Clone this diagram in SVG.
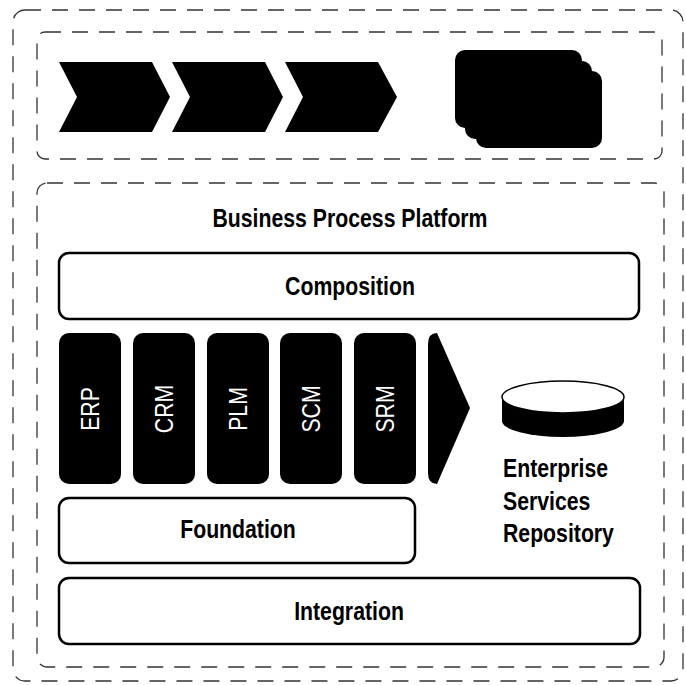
<svg xmlns="http://www.w3.org/2000/svg" width="686" height="685" viewBox="0 0 686 685">
<style>
.frame{fill:none;stroke:#333;stroke-width:1.3;stroke-dasharray:16 11}
.box{fill:#fff;stroke:#000;stroke-width:2.5}
.blk{fill:#000}
.lbl{font-family:"Liberation Sans",Arial,Helvetica,sans-serif;font-size:25px;font-weight:bold;fill:#000}
.col{font-family:"Liberation Sans",Arial,Helvetica,sans-serif;font-size:25px;fill:#fff;text-anchor:middle}
.mid{text-anchor:middle}
</style>
<rect width="686" height="685" fill="#fff"/>
<g id="outer-frame"><rect class="frame" x="13" y="10" width="670" height="671" rx="12"/></g>
<g id="process-frame"><rect class="frame" x="37" y="32" width="625" height="127" rx="8"/></g>
<g id="process-chain">
<polygon class="blk" points="59,62 152,62 170,97 152,132 59,132 77,97"/>
<polygon class="blk" points="172,62 265,62 283,97 265,132 172,132 190,97"/>
<polygon class="blk" points="285,62 378,62 397,97 378,132 285,132 303,97"/>
</g>
<g id="document-stack">
<rect class="blk" x="455" y="50" width="127" height="78" rx="10"/>
<rect class="blk" x="465" y="61" width="127" height="78" rx="10"/>
<rect class="blk" x="476" y="71" width="126" height="77" rx="10"/>
</g>
<g id="business-process-platform">
<rect class="frame" x="37" y="183" width="627" height="484" rx="10"/>
<text class="lbl mid" transform="translate(350,227) scale(0.85,1)">Business Process Platform</text>
</g>
<g id="composition">
<rect class="box" x="59" y="253" width="580" height="66" rx="10"/>
<text class="lbl mid" transform="translate(350,295) scale(0.85,1)">Composition</text>
</g>
<g id="erp"><rect class="blk" x="59" y="333" width="62" height="151" rx="10"/><text class="col" transform="translate(90,409) rotate(-90) scale(0.85,1)" dy="9">ERP</text></g>
<g id="crm"><rect class="blk" x="133" y="333" width="62" height="151" rx="10"/><text class="col" transform="translate(164,409) rotate(-90) scale(0.85,1)" dy="9">CRM</text></g>
<g id="plm"><rect class="blk" x="207" y="333" width="62" height="151" rx="10"/><text class="col" transform="translate(238,409) rotate(-90) scale(0.85,1)" dy="9">PLM</text></g>
<g id="scm"><rect class="blk" x="280" y="333" width="62" height="151" rx="10"/><text class="col" transform="translate(311,409) rotate(-90) scale(0.85,1)" dy="9">SCM</text></g>
<g id="srm"><rect class="blk" x="354" y="333" width="62" height="151" rx="10"/><text class="col" transform="translate(385,409) rotate(-90) scale(0.85,1)" dy="9">SRM</text></g>
<g id="more-arrow"><path class="blk" d="M428,344 Q428,333 437,333 L470,408 L437,484 Q428,484 428,473 Z"/></g>
<g id="enterprise-services-repository">
<path class="blk" d="M502,397 L502,421 A61,16 0 0 0 624,421 L624,397 Z"/>
<ellipse cx="563" cy="397" rx="61" ry="16" fill="#fff" stroke="#000" stroke-width="1.5"/>
<text class="lbl" transform="translate(503,477) scale(0.85,1)">Enterprise</text>
<text class="lbl" transform="translate(503,510) scale(0.85,1)">Services</text>
<text class="lbl" transform="translate(503,542) scale(0.85,1)">Repository</text>
</g>
<g id="foundation">
<rect class="box" x="59" y="498" width="356" height="65" rx="10"/>
<text class="lbl mid" transform="translate(238,538) scale(0.85,1)">Foundation</text>
</g>
<g id="integration">
<rect class="box" x="59" y="578" width="581" height="66" rx="10"/>
<text class="lbl mid" transform="translate(349,620) scale(0.85,1)">Integration</text>
</g>
<g id="connectors"/>
</svg>
